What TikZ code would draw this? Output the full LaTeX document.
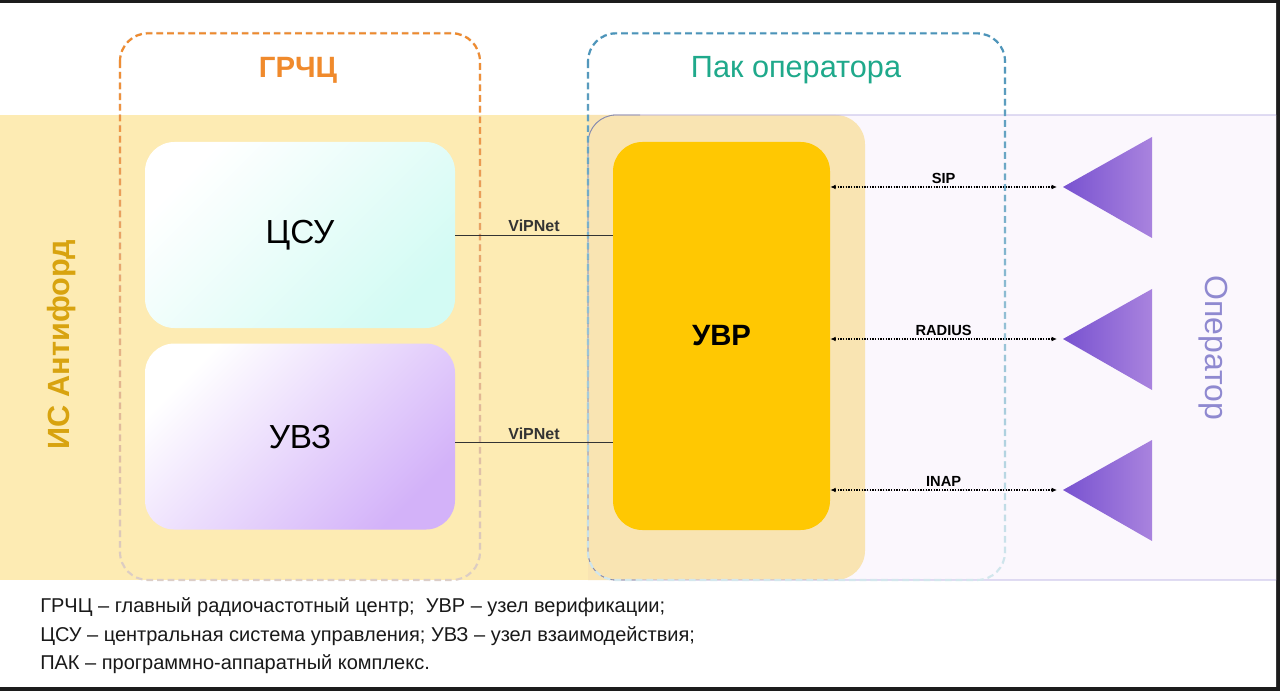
\documentclass[tikz,border=0pt]{standalone}
\usepackage{fontspec}
\setmainfont{Liberation Sans}
\usepackage{tikz}
\usetikzlibrary{shapes, arrows.meta, positioning, fadings}
\definecolor{framedark}{HTML}{1C1C1C}
\definecolor{bandyellow}{HTML}{FDEBB3}
\definecolor{uvrback}{HTML}{F9E4B2}
\definecolor{oppanel}{HTML}{FBF7FD}
\definecolor{opline}{HTML}{A9A2DE}
\definecolor{opedge}{HTML}{8A8FA3}
\definecolor{uvrgold}{HTML}{FFC802}
\definecolor{grchcorange}{HTML}{F08A2C}
\definecolor{grchcgray}{HTML}{DCCFC8}
\definecolor{pakblue}{HTML}{4B93B9}
\definecolor{paklight}{HTML}{D4E8EE}
\definecolor{pakteal}{HTML}{1FA98B}
\definecolor{antigold}{HTML}{D8A30F}
\definecolor{opviolet}{HTML}{8F89D0}
\definecolor{csucyan}{HTML}{D3FBF4}
\definecolor{uvzmid}{HTML}{EBDDFA}
\definecolor{uvzviolet}{HTML}{D3B2F9}
\definecolor{trileft}{HTML}{7852D0}
\definecolor{triright}{HTML}{A983DE}
\tikzfading[name=fadedown, top color=transparent!0, bottom color=transparent!100]
\tikzstyle{block}=[rectangle, rounded corners=22pt, minimum width=232.5pt, minimum height=139.5pt, inner sep=0pt, font=\fontsize{25}{30}\selectfont]
\tikzstyle{group}=[line width=1.6pt, rounded corners=21pt, dash pattern=on 5pt off 3pt]
\tikzstyle{line}=[draw, line width=0.7pt, black!80]
\tikzstyle{link}=[draw, line width=0.8pt, dash pattern=on 1pt off 1pt, {Latex[length=4pt,width=3.5pt]}-{Latex[length=4pt,width=3.5pt]}]
\tikzstyle{tag}=[font=\bfseries\fontsize{11}{13}\selectfont, above, inner sep=2pt]
\tikzstyle{legend}=[anchor=west, inner sep=0pt, font=\fontsize{15}{18}\selectfont, text=black!90]

\begin{document}
\begin{tikzpicture}[x=0.75pt, y=-0.75pt]
	\useasboundingbox (0,0) rectangle (1280,691);
	\fill[framedark] (0,0) rectangle (1280,691);
	\begin{scope}
		\clip (0,4) rectangle (1276,686);
		\fill[white] (0,0) rectangle (1280,691);
		\fill[bandyellow] (0,115) rectangle (600,580);
		\fill[oppanel, rounded corners=21pt] (588,115) rectangle (1320,580);
		\begin{scope}
			\clip (588,0) rectangle (1280,691);
			\fill[uvrback, rounded corners=22pt] (540,115) rectangle (865,580);
		\end{scope}
		\draw[opline, line width=0.6pt, rounded corners=21pt] (588,115) rectangle (1320,580);
		\begin{scope}
			\clip (580,100) rectangle (640,600);
			\draw[opedge, line width=0.6pt, rounded corners=21pt] (588,115) rectangle (1320,580);
		\end{scope}
	\end{scope}
	% groups
	\draw[grchcgray, group] (120,33) rectangle (480,580);
	\draw[grchcorange, group, path fading=fadedown] (120,33) rectangle (480,580);
	\draw[paklight, group] (588,33) rectangle (1005,580);
	\draw[pakblue, group, path fading=fadedown] (588,33) rectangle (1005,580);
	\node[text=grchcorange, font=\bfseries\fontsize{22}{26}\selectfont] (grchc) at (298,70) {ГРЧЦ};
	\node[text=pakteal, font=\fontsize{23}{27}\selectfont] (pak) at (796,70) {Пак оператора};
	% blocks
	\node[block, top color=white, middle color=white!80!csucyan, bottom color=csucyan, shading angle=45] (csu) at (300,235) {ЦСУ};
	\node[block, below=11.25pt of csu, top color=white, middle color=uvzmid, bottom color=uvzviolet, shading angle=45] (uvz) {УВЗ};
	\node[block, fill=uvrgold, minimum width=162.75pt, minimum height=291pt, font=\bfseries\fontsize{22}{26}\selectfont] (uvr) at (721.5,336) {УВР};
	\coordinate (uvzport) at ([yshift=-4.5pt]uvz.east);
	\draw[line] (csu.east) -- node[tag, font=\bfseries\fontsize{12}{14}\selectfont]{ViPNet} (uvr.west |- csu.east);
	\draw[line] (uvzport) -- node[tag, font=\bfseries\fontsize{12}{14}\selectfont]{ViPNet} (uvr.west |- uvzport);
	% operator side
	\foreach \name/\y/\lbl in {sip/187/SIP, rad/339/RADIUS, inap/490/INAP}{
		\coordinate (\name) at (1063,\y);
		\shade[left color=trileft, right color=triright] (\name) -- ++(89,-50) -- ++(0,101) -- cycle;
		\draw[link] (uvr.east |- \name) -- node[tag]{\lbl} ([xshift=-4.5pt]\name);
	}
	\node[rotate=90, text=antigold, font=\bfseries\fontsize{23}{27}\selectfont] (antifraud) at (62,345) {ИС Антифорд};
	\node[rotate=-90, text=opviolet, font=\fontsize{24}{28}\selectfont] (operator) at (1213,348) {Оператор};
	% legend
	\node[legend] (leg1) at (40,607) {ГРЧЦ – главный радиочастотный центр;\ \ УВР – узел верификации;};
	\node[legend] (leg2) at (40,636) {ЦСУ – центральная система управления; УВЗ – узел взаимодействия;};
	\node[legend] (leg3) at (40,664) {ПАК – программно-аппаратный комплекс.};
\end{tikzpicture}
\end{document}
